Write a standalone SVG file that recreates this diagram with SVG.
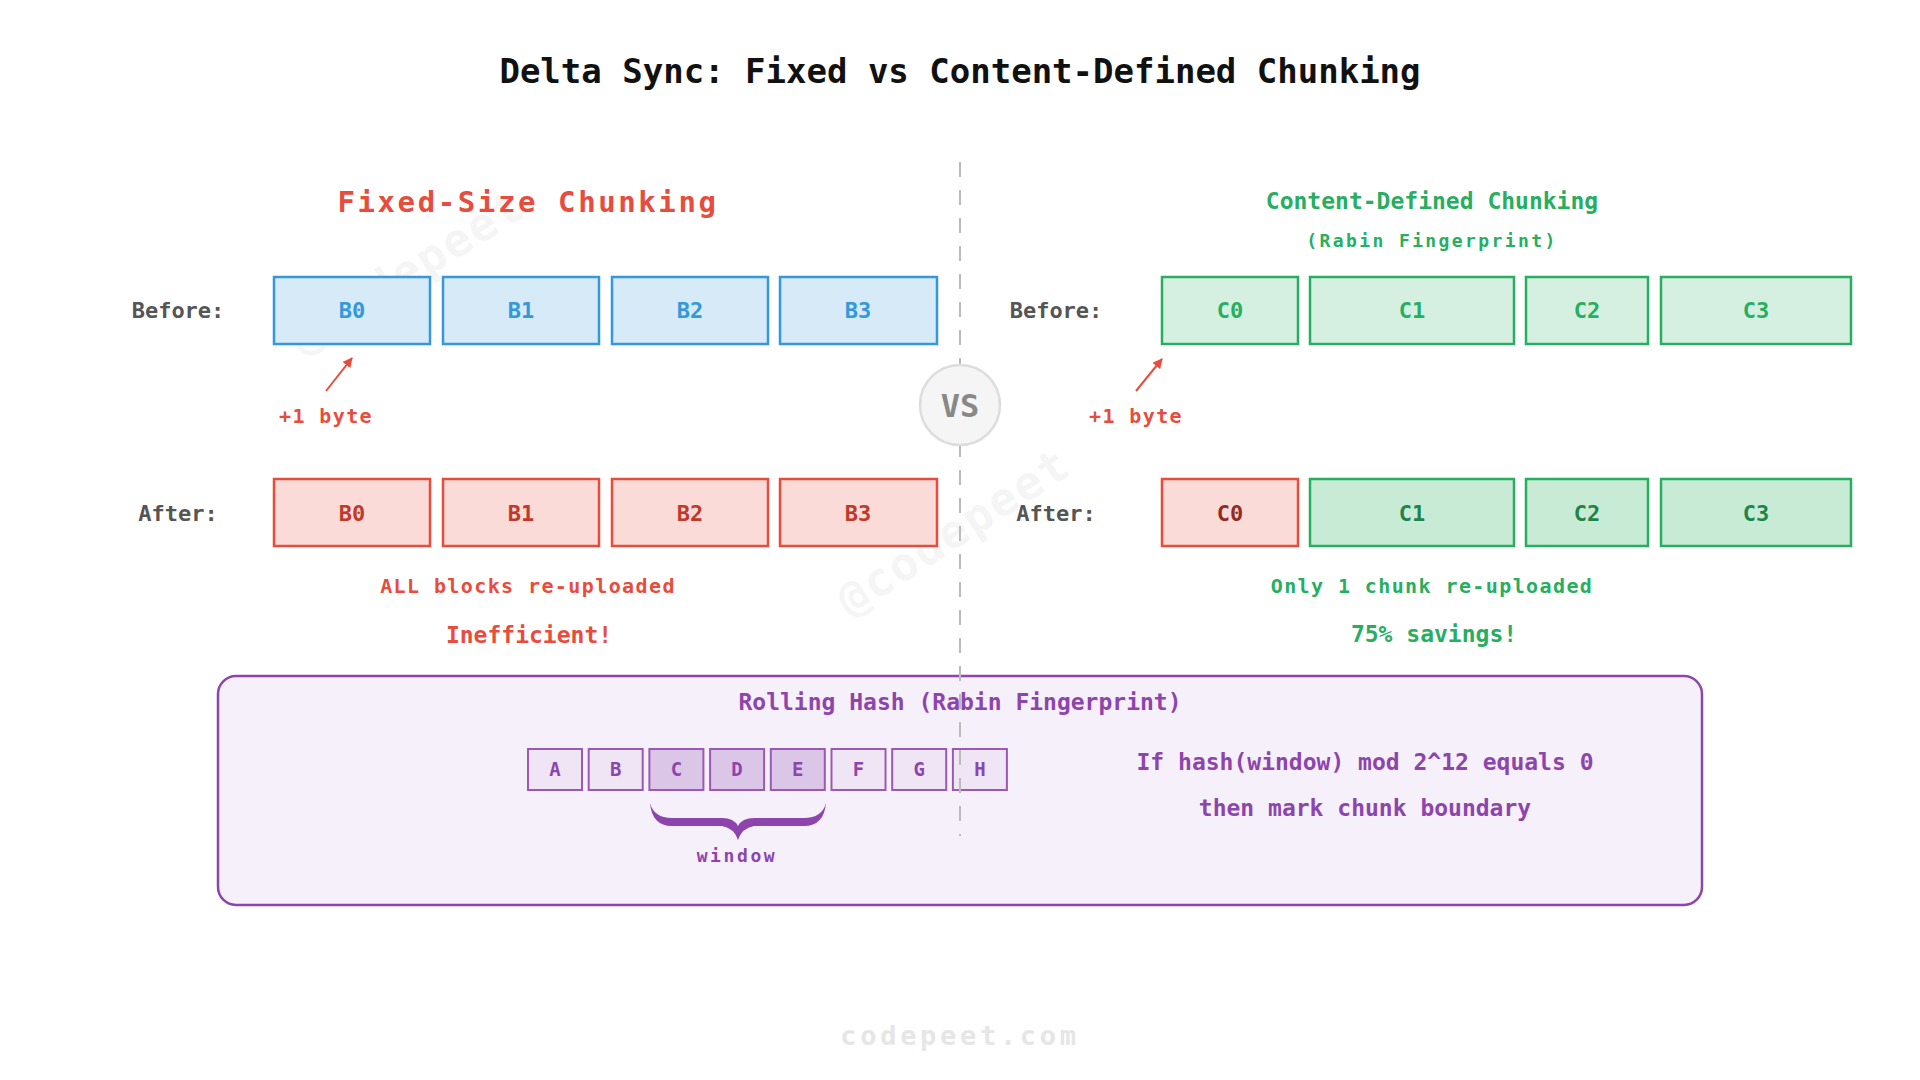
<svg xmlns="http://www.w3.org/2000/svg" width="1920" height="1080" viewBox="0 0 1920 1080">
<style>
text{font-family:"DejaVu Sans Mono","Liberation Mono",monospace;font-weight:bold;text-anchor:middle}
.lbl{font-size:22px;fill:#555}
.blk{font-size:22px}
.wm{font-size:46px;fill:#000;opacity:0.035;letter-spacing:2px}
.fixed{fill:#d6eaf8;stroke:#3498db;stroke-width:2.5}
.bad{fill:#fadbd8;stroke:#e74c3c;stroke-width:2.5}
.cdc{fill:#d5f0e1;stroke:#27ae60;stroke-width:2.5}
.cdc2{fill:#c8ebd6;stroke:#27ae60;stroke-width:2.5}
.byte{fill:#efe5f5;stroke:#9b59b6;stroke-width:2}
.win{fill:#dcc6e8;stroke:#9b59b6;stroke-width:2}
.ltr{font-size:19px;fill:#8e44ad}
.note{font-size:20px;letter-spacing:1.4px}
.arr{stroke:#e74c3c;stroke-width:2;fill:none;marker-end:url(#ah)}
</style>
<defs>
<marker id="ah" viewBox="0 0 10 10" refX="9" refY="5" markerWidth="5" markerHeight="5" orient="auto">
<path d="M0,0 L10,5 L0,10 Z" fill="#e74c3c"/>
</marker>
</defs>
<rect width="1920" height="1080" fill="#ffffff"/>

<g id="watermarks">
<text class="wm" transform="translate(415,285) rotate(-32)">@codepeet</text>
<text class="wm" transform="translate(962,545) rotate(-33)">@codepeet</text>
<text class="wm" transform="translate(1503,815) rotate(-32)">@codepeet</text>
</g>

<text x="960" y="83" style="font-size:34px;fill:#111">Delta Sync: Fixed vs Content-Defined Chunking</text>

<g id="fixed-header">
<text x="528" y="212" style="font-size:29px;fill:#e74c3c;letter-spacing:2.6px">Fixed-Size Chunking</text>
</g>
<g id="cdc-header">
<text x="1432" y="209" style="font-size:23px;fill:#27ae60">Content-Defined Chunking</text>
<text x="1432" y="247" style="font-size:18px;fill:#27ae60;letter-spacing:2.4px">(Rabin Fingerprint)</text>
</g>

<g id="fixed-before">
<text class="lbl" x="178" y="318">Before:</text>
<g id="fb0"><rect class="fixed" x="274" y="277" width="156" height="67"/><text class="blk" x="352" y="318" fill="#3498db">B0</text></g>
<g id="fb1"><rect class="fixed" x="443" y="277" width="156" height="67"/><text class="blk" x="521" y="318" fill="#3498db">B1</text></g>
<g id="fb2"><rect class="fixed" x="612" y="277" width="156" height="67"/><text class="blk" x="690" y="318" fill="#3498db">B2</text></g>
<g id="fb3"><rect class="fixed" x="780" y="277" width="157" height="67"/><text class="blk" x="858" y="318" fill="#3498db">B3</text></g>
</g>

<g id="fixed-after">
<text class="lbl" x="178" y="521">After:</text>
<g id="fa0"><rect class="bad" x="274" y="479" width="156" height="67"/><text class="blk" x="352" y="521" fill="#c0392b">B0</text></g>
<g id="fa1"><rect class="bad" x="443" y="479" width="156" height="67"/><text class="blk" x="521" y="521" fill="#c0392b">B1</text></g>
<g id="fa2"><rect class="bad" x="612" y="479" width="156" height="67"/><text class="blk" x="690" y="521" fill="#c0392b">B2</text></g>
<g id="fa3"><rect class="bad" x="780" y="479" width="157" height="67"/><text class="blk" x="858" y="521" fill="#c0392b">B3</text></g>
</g>

<g id="fixed-result">
<text class="note" x="528" y="593" fill="#e74c3c">ALL blocks re-uploaded</text>
<text x="529" y="643" style="font-size:23px;fill:#e74c3c">Inefficient!</text>
</g>

<g id="cdc-before">
<text class="lbl" x="1056" y="318">Before:</text>
<g id="cb0"><rect class="cdc" x="1162" y="277" width="136" height="67"/><text class="blk" x="1230" y="318" fill="#27ae60">C0</text></g>
<g id="cb1"><rect class="cdc" x="1310" y="277" width="204" height="67"/><text class="blk" x="1412" y="318" fill="#27ae60">C1</text></g>
<g id="cb2"><rect class="cdc" x="1526" y="277" width="122" height="67"/><text class="blk" x="1587" y="318" fill="#27ae60">C2</text></g>
<g id="cb3"><rect class="cdc" x="1661" y="277" width="190" height="67"/><text class="blk" x="1756" y="318" fill="#27ae60">C3</text></g>
</g>

<g id="cdc-after">
<text class="lbl" x="1056" y="521">After:</text>
<g id="ca0"><rect class="bad" x="1162" y="479" width="136" height="67"/><text class="blk" x="1230" y="521" fill="#922b21">C0</text></g>
<g id="ca1"><rect class="cdc2" x="1310" y="479" width="204" height="67"/><text class="blk" x="1412" y="521" fill="#1e8449">C1</text></g>
<g id="ca2"><rect class="cdc2" x="1526" y="479" width="122" height="67"/><text class="blk" x="1587" y="521" fill="#1e8449">C2</text></g>
<g id="ca3"><rect class="cdc2" x="1661" y="479" width="190" height="67"/><text class="blk" x="1756" y="521" fill="#1e8449">C3</text></g>
</g>

<g id="cdc-result">
<text class="note" x="1432" y="593" fill="#27ae60">Only 1 chunk re-uploaded</text>
<text x="1434" y="642" style="font-size:23px;fill:#27ae60">75% savings!</text>
</g>

<g id="rolling-hash">
<rect x="218" y="676" width="1484" height="229" rx="18" fill="#f5f0f9" stroke="#8e44ad" stroke-width="2.5"/>
<text x="960" y="710" style="font-size:23px;fill:#8e44ad">Rolling Hash (Rabin Fingerprint)</text>
<g id="bA"><rect class="byte" x="528" y="749" width="54" height="41"/><text class="ltr" x="555" y="776">A</text></g>
<g id="bB"><rect class="byte" x="588.7" y="749" width="54" height="41"/><text class="ltr" x="615.7" y="776">B</text></g>
<g id="bC"><rect class="win" x="649.4" y="749" width="54" height="41"/><text class="ltr" x="676.4" y="776">C</text></g>
<g id="bD"><rect class="win" x="710.1" y="749" width="54" height="41"/><text class="ltr" x="737.1" y="776">D</text></g>
<g id="bE"><rect class="win" x="770.8" y="749" width="54" height="41"/><text class="ltr" x="797.8" y="776">E</text></g>
<g id="bF"><rect class="byte" x="831.5" y="749" width="54" height="41"/><text class="ltr" x="858.5" y="776">F</text></g>
<g id="bG"><rect class="byte" x="892.2" y="749" width="54" height="41"/><text class="ltr" x="919.2" y="776">G</text></g>
<g id="bH"><rect class="byte" x="952.9" y="749" width="54" height="41"/><text class="ltr" x="979.9" y="776">H</text></g>
<path id="brace" d="M650,803 Q652,826 672,826 L722,826 Q734,828 738,840 Q742,828 754,826 L804,826 Q824,826 826,803 Q822,818 804,818 L754,818 Q742,818 738,826 Q734,818 722,818 L672,818 Q654,818 650,803 Z" fill="#8e44ad"/>
<text x="737" y="862" style="font-size:18px;fill:#8e44ad;letter-spacing:2.6px">window</text>
<text x="1365" y="770" style="font-size:23px;fill:#8e44ad">If hash(window) mod 2^12 equals 0</text>
<text x="1365" y="816" style="font-size:23px;fill:#8e44ad">then mark chunk boundary</text>
</g>

<g id="connectors">
<line x1="960" y1="162" x2="960" y2="836" stroke="#bbbbbb" stroke-width="2" stroke-dasharray="15 13"/>
<line class="arr" x1="326" y1="391" x2="352" y2="358"/>
<line class="arr" x1="1136" y1="391" x2="1162" y2="359"/>
</g>

<g id="plus-byte">
<text class="note" x="326" y="423" fill="#e74c3c">+1 byte</text>
<text class="note" x="1136" y="423" fill="#e74c3c">+1 byte</text>
</g>

<g id="vs">
<circle cx="960" cy="405" r="40" fill="#f5f5f5" stroke="#dddddd" stroke-width="2.5"/>
<text x="960" y="417" style="font-size:32px;fill:#888">VS</text>
</g>

<text x="960" y="1045" style="font-size:27px;fill:#e6e6e6;letter-spacing:3.7px">codepeet.com</text>
</svg>
